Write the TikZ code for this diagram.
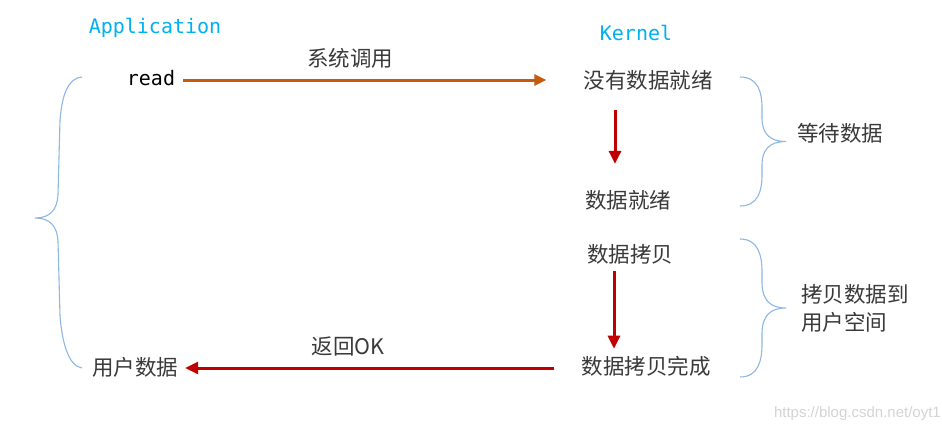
\documentclass[tikz,border=0pt]{standalone}
\usepackage{fontspec}
\setmonofont{DejaVu Sans Mono}
\setsansfont{Liberation Sans}
\newfontfamily\cjk{Noto Sans CJK SC}
\usetikzlibrary{arrows.meta}
\definecolor{appblue}{HTML}{00B0F0}
\definecolor{arrorange}{HTML}{C55A11}
\definecolor{arrred}{HTML}{C00000}
\definecolor{bracecol}{HTML}{8DB8E4}
\definecolor{txtgray}{HTML}{3A3A3A}
\definecolor{wmgray}{HTML}{D4D4D4}
\begin{document}
\begin{tikzpicture}[x=1pt,y=-1pt,
  lbl/.style={inner sep=0pt,font=\ttfamily\fontsize{20}{22}\selectfont},
  cn/.style={inner sep=0pt,text=txtgray,font=\cjk\fontsize{21.5}{26}\selectfont},
  orangearr/.style={draw=arrorange,line width=3pt,-{Triangle[length=12pt,width=11pt]}},
  redarr/.style={draw=arrred,line width=3pt,-{Triangle[length=13pt,width=12pt]}},
  bracestyle/.style={draw=bracecol,line width=1.1pt}]
\useasboundingbox (0,0) rectangle (942,423);
\fill[white] (0,0) rectangle (942,423);
% titles
\node[lbl,text=appblue] (app) at (155,28) {Application};
\node[lbl,text=appblue] (kern) at (636,33) {Kernel};
% left column
\node[lbl] (read) at (151,78) {read};
\node[cn] (user) at (135,367) {用户数据};
% kernel column
\node[cn] (k1) at (648,80) {没有数据就绪};
\node[cn] (k2) at (628,200) {数据就绪};
\node[cn] (k3) at (630,254) {数据拷贝};
\node[cn] (k4) at (646,366) {数据拷贝完成};
% right labels
\node[cn] (wait) at (840,133) {等待数据};
\node[cn,align=left,anchor=west,font=\cjk\fontsize{21.5}{28}\selectfont] (copy) at (801,308) {拷贝数据到\\用户空间};
% arrow labels
\node[cn] (sys) at (350,58) {系统调用};
\node[cn] (ret) at (348,346) {返回OK};
% watermark
\node[inner sep=0pt,anchor=east,text=wmgray,font=\sffamily\fontsize{15}{17}\selectfont] (wm) at (941,414) {https://blog.csdn.net/oyt1};
% connectors
\draw[orangearr] ([xshift=8pt]read.east |- k1.west) -- ([xshift=-37pt]k1.west);
\draw[redarr] ([xshift=-33pt,yshift=-20pt]k1.south) -- ([xshift=-13pt,yshift=26pt]k2.north);
\draw[redarr] ([xshift=-16pt,yshift=-7pt]k3.south) -- ([xshift=-32pt,yshift=7pt]k4.north);
\draw[redarr] ([xshift=-27pt,yshift=-2pt]k4.west) -- ([xshift=7pt,yshift=-1pt]user.east);
% braces
\draw[bracestyle] (740,77) .. controls (758,77) and (762,92) .. (762,108)
  -- (762,118) .. controls (762,134) and (770,141.5) .. (786,141.5)
  .. controls (770,141.5) and (762,149) .. (762,165)
  -- (762,175) .. controls (762,191) and (758,206) .. (740,206);
\draw[bracestyle] (740,239) .. controls (758,239) and (762,255) .. (762,272)
  -- (762,282) .. controls (762,300) and (770,308) .. (786,308)
  .. controls (770,308) and (762,316) .. (762,334)
  -- (762,344) .. controls (762,361) and (758,377) .. (740,377);
\draw[bracestyle] (82,77) .. controls (68,78) and (62,95) .. (60,120)
  -- (58,195) .. controls (57,210) and (50,218) .. (35,218)
  .. controls (50,218) and (57,226) .. (58,241)
  -- (60,316) .. controls (62,341) and (68,366) .. (82,368);
\end{tikzpicture}
\end{document}
